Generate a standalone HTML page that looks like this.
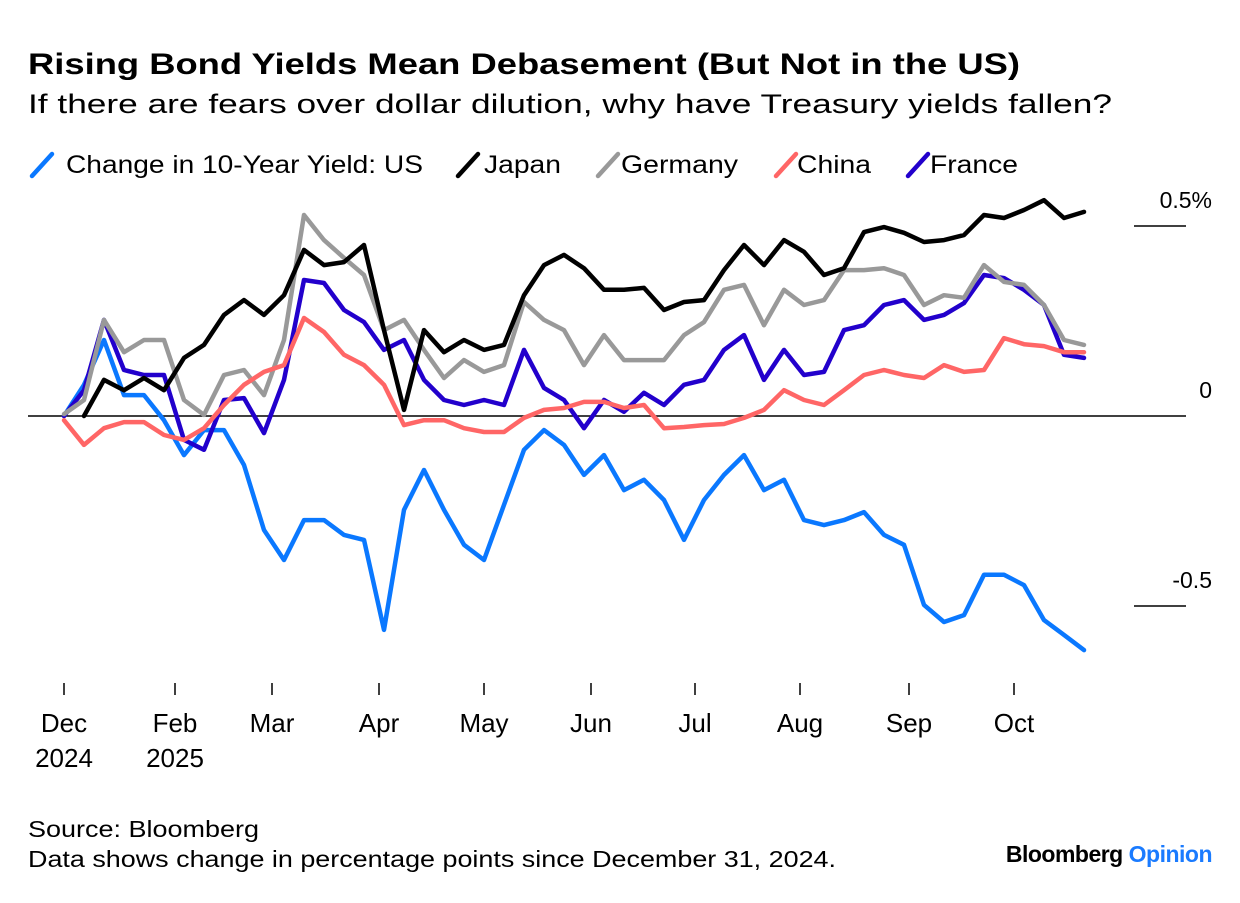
<!DOCTYPE html>
<html><head><meta charset="utf-8">
<style>
html,body{margin:0;padding:0;background:#fff;}
body{width:1240px;height:898px;overflow:hidden;font-family:"Liberation Sans",sans-serif;}
svg text{font-family:"Liberation Sans",sans-serif;}
</style></head>
<body>
<svg id="chart" width="1240" height="898" viewBox="0 0 1240 898">
  <text x="28" y="74" font-size="30" font-weight="bold" fill="#000" textLength="992" lengthAdjust="spacingAndGlyphs">Rising Bond Yields Mean Debasement (But Not in the US)</text>
  <text x="28" y="113" font-size="27" fill="#000" textLength="1084" lengthAdjust="spacingAndGlyphs">If there are fears over dollar dilution, why have Treasury yields fallen?</text>
  <g id="legend"></g>
  <g id="axes"></g>
  <g id="series"></g>
  <text x="28" y="837" font-size="23" fill="#000" textLength="231" lengthAdjust="spacingAndGlyphs">Source: Bloomberg</text>
  <text x="28" y="867" font-size="23" fill="#000" textLength="808" lengthAdjust="spacingAndGlyphs">Data shows change in percentage points since December 31, 2024.</text>
  <text x="1212" y="862" font-size="23" font-weight="bold" text-anchor="end" letter-spacing="-0.5"><tspan fill="#000">Bloomberg </tspan><tspan fill="#1a7bff">Opinion</tspan></text>
</svg>
<script>
const seriesNames = ["Change in 10-Year Yield: US","Japan","Germany","China","France"];
const seriesColors = ["#0a78ff","#000000","#999999","#ff6666","#2200cc"];
const usVals = [0,.082,.2,.055,.055,-.011,-.103,-.037,-.037,-.129,-.3,-.379,-.274,-.274,-.313,-.326,-.563,-.247,-.142,-.247,-.339,-.379,-.234,-.089,-.037,-.076,-.155,-.103,-.195,-.168,-.221,-.326,-.221,-.155,-.103,-.195,-.168,-.274,-.287,-.274,-.253,-.313,-.339,-.497,-.542,-.524,-.418,-.418,-.445,-.537,-.576,-.616];
const japanVals = [null,0,.095,.068,.1,.068,.153,.187,.266,.305,.266,.318,.437,.397,.405,.45,.226,.016,.226,.168,.2,.174,.187,.318,.397,.424,.389,.332,.332,.337,.279,.3,.305,.384,.45,.397,.463,.432,.371,.389,.484,.497,.482,.458,.463,.476,.529,.521,.542,.568,.521,.537];
const germanyVals = [.005,.042,.253,.168,.2,.2,.042,.003,.108,.121,.055,.2,.529,.463,.416,.371,.226,.253,.174,.1,.147,.116,.134,.3,.253,.226,.134,.213,.147,.147,.147,.213,.247,.332,.345,.239,.332,.292,.305,.384,.384,.389,.371,.292,.318,.311,.397,.353,.345,.292,.2,.187];
const chinaVals = [-.011,-.076,-.032,-.016,-.016,-.05,-.063,-.032,.029,.082,.116,.134,.258,.221,.161,.134,.082,-.024,-.011,-.011,-.032,-.042,-.042,-.005,.016,.021,.037,.037,.021,.029,-.032,-.029,-.024,-.021,-.005,.016,.068,.042,.029,.068,.108,.121,.108,.1,.134,.116,.121,.205,.189,.184,.168,.168];
const franceVals = [0,.068,.253,.121,.108,.108,-.063,-.089,.042,.047,-.045,.095,.358,.35,.279,.247,.174,.2,.095,.042,.029,.042,.029,.174,.074,.042,-.032,.042,.011,.061,.029,.082,.095,.174,.213,.095,.174,.108,.116,.226,.239,.292,.305,.253,.266,.297,.371,.363,.332,.292,.161,.153];
const monthLabels = ["Dec","Feb","Mar","Apr","May","Jun","Jul","Aug","Sep","Oct"];
const yearLabels = ["2024","2025","","","","","","","",""];
const monthTickIdx = [0,5.55,10.4,15.75,21,26.35,31.55,36.8,42.25,47.5];
const yTicks = [0.5,0,-0.5];
const yTickLabels = ["0.5%","0","-0.5"];

const NS="http://www.w3.org/2000/svg";
const n = usVals.length;
const X0=64, X1=1084;
function xScale(i){return X0 + i*(X1-X0)/(n-1);}
function yScale(v){return 416 - v*380;}
function mk(tag,attrs,parent){const e=document.createElementNS(NS,tag);for(const k in attrs)e.setAttribute(k,attrs[k]);parent.appendChild(e);return e;}

const axes=document.getElementById('axes');
yTicks.forEach((t,k)=>{
  const y=yScale(t);
  const ln=mk('line',{x1:t===0?28:1134,x2:1186,y1:y,y2:y,stroke:'#000','stroke-width':1.5},axes);
  
  
  const tx=mk('text',{x:1212,y:y-18,'font-size':23,'text-anchor':'end',fill:'#000'},axes);
  tx.textContent=yTickLabels[k];
  
  
});
monthTickIdx.forEach((ti,k)=>{
  const x=xScale(ti);
  const tk=mk('line',{x1:x,x2:x,y1:683,y2:695,stroke:'#000','stroke-width':1.5},axes);
  
  
  const tx=mk('text',{x:x,y:732,'font-size':26,'text-anchor':'middle',fill:'#000'},axes);
  tx.textContent=monthLabels[k];
  
  
  if(yearLabels[k]){
    const ty=mk('text',{x:x,y:767,'font-size':26,'text-anchor':'middle',fill:'#000'},axes);
    ty.textContent=yearLabels[k];
    
    
  }
});

const allVals=[usVals,japanVals,germanyVals,chinaVals,franceVals];
const drawOrder=[0,4,2,1,3];
const sg=document.getElementById('series');
drawOrder.forEach(s=>{
  let d='';let started=false;
  allVals[s].forEach((v,i)=>{
    if(v===null)return;
    d+=(started?'L':'M')+xScale(i).toFixed(1)+' '+yScale(v).toFixed(1);started=true;
  });
  const p=mk('path',{d:d,fill:'none',stroke:seriesColors[s],'stroke-width':4.5,'stroke-linejoin':'round','stroke-linecap':'round'},sg);
  
  
});

const lg=document.getElementById('legend');
const legendSlashX=[30,456,596,774,906];
const legendTextX=[66,484,621,797,930];
const legendTextW=[357,77,117,74,88];
seriesNames.forEach((nm,k)=>{
  const g=mk('g',{},lg);
  
  
  mk('line',{x1:legendSlashX[k]+2,y1:176,x2:legendSlashX[k]+22,y2:154,stroke:seriesColors[k],'stroke-width':4.5,'stroke-linecap':'round'},g);
  const t=mk('text',{x:legendTextX[k],y:173,'font-size':25,fill:'#000',textLength:legendTextW[k],lengthAdjust:'spacingAndGlyphs'},g);
  t.textContent=nm;
});
</script>
</body></html>
